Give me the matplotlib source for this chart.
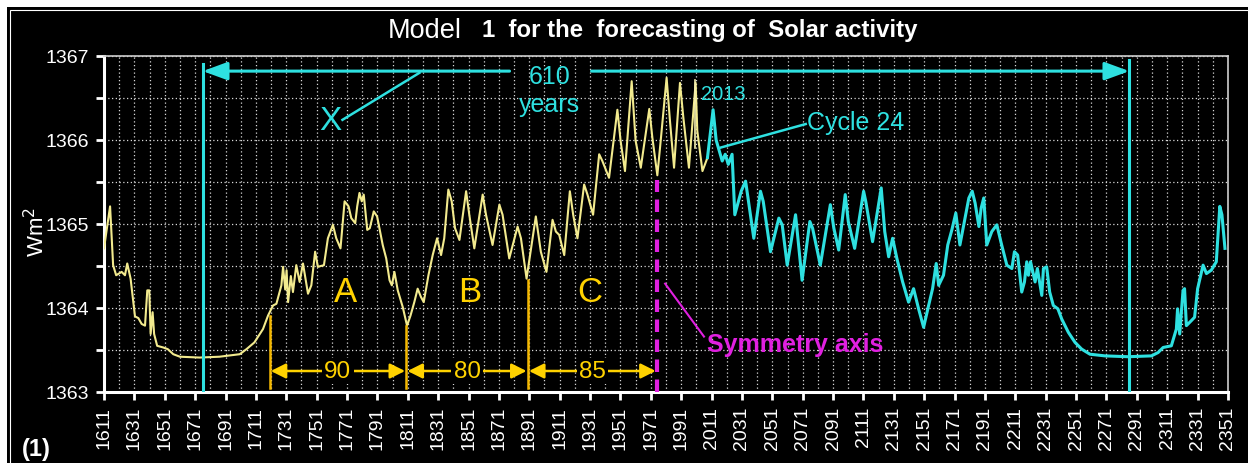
import matplotlib
matplotlib.use("Agg")
from matplotlib import pyplot as plt
from matplotlib.patches import Rectangle
import numpy as np

plt.rcParams['font.family'] = ['Liberation Sans', 'DejaVu Sans']

# reconstructed / observed part (yellow)
hist_years = [1611, 1615, 1617, 1619, 1622.6, 1624.8, 1626.3, 1628.5, 1631.4, 1633.6,
              1635.8, 1638, 1639.5, 1640.8, 1641.7, 1643, 1644, 1646, 1650, 1653,
              1656.6, 1661, 1674, 1687, 1700.4, 1704.8, 1710, 1715.7, 1719, 1722.3,
              1724.5, 1727.8, 1728.9, 1730.3, 1731.2, 1732.2, 1734, 1735.4, 1737.6, 1739.8,
              1742, 1745.3, 1747.5, 1750, 1751.8, 1755.8, 1758.4, 1761.7, 1763.9, 1766.7,
              1769.4, 1772, 1773.8, 1776.4, 1777.7, 1779.2, 1780.7, 1782, 1784.3, 1786,
              1788.6, 1790.8, 1794.5, 1796.8, 1799, 1800.5, 1802.2, 1804.4, 1807.7, 1810.5,
              1812.8, 1815.3, 1817.5, 1819.7, 1821.5, 1824.6, 1827.4, 1830.3, 1832.9, 1835,
              1837.7, 1839.9, 1842.1, 1845, 1849.4, 1851.5, 1854.8, 1860.3, 1862.5, 1866.8,
              1871.3, 1873.4, 1877.8, 1883.3, 1885.5, 1889.2, 1895.3, 1898.6, 1902.3, 1906.3,
              1908.5, 1910.7, 1914, 1917.7, 1919.9, 1922.7, 1927.1, 1929.3, 1933, 1937,
              1939.1, 1943.5, 1949, 1951.1, 1954, 1958.4, 1961, 1964.4, 1970, 1972,
              1975.3, 1977.5, 1981.4, 1983.6, 1986.3, 1990.2, 1992.4, 1996.1, 2000.5, 2001.6,
              2005, 2008.3]
hist_tsi = [1364.71, 1365.21, 1364.51, 1364.39, 1364.43, 1364.39, 1364.53, 1364.35, 1363.90, 1363.88,
            1363.81, 1363.79, 1364.21, 1364.21, 1363.69, 1363.95, 1363.69, 1363.55, 1363.53, 1363.51,
            1363.45, 1363.42, 1363.41, 1363.42, 1363.45, 1363.51, 1363.59, 1363.75, 1363.91, 1364.03,
            1364.05, 1364.27, 1364.49, 1364.22, 1364.45, 1364.07, 1364.38, 1364.19, 1364.51, 1364.31,
            1364.53, 1364.17, 1364.27, 1364.67, 1364.49, 1364.51, 1364.83, 1364.99, 1364.83, 1364.71,
            1365.27, 1365.21, 1365.07, 1365.01, 1365.21, 1365.37, 1365.27, 1365.35, 1364.93, 1364.95,
            1365.15, 1365.09, 1364.75, 1364.59, 1364.33, 1364.27, 1364.43, 1364.21, 1364.01, 1363.79,
            1363.91, 1364.07, 1364.23, 1364.13, 1364.07, 1364.39, 1364.63, 1364.83, 1364.63, 1364.83,
            1365.41, 1365.27, 1364.95, 1364.81, 1365.39, 1365.11, 1364.71, 1365.35, 1365.11, 1364.75,
            1365.23, 1365.11, 1364.59, 1364.97, 1364.83, 1364.35, 1365.09, 1364.67, 1364.43, 1365.05,
            1364.91, 1364.87, 1364.63, 1365.39, 1365.11, 1364.83, 1365.47, 1365.35, 1365.11, 1365.83,
            1365.75, 1365.55, 1366.36, 1365.99, 1365.63, 1366.70, 1365.99, 1365.67, 1366.37, 1366.03,
            1365.58, 1365.99, 1366.74, 1366.23, 1365.67, 1366.68, 1366.27, 1365.67, 1366.68, 1366.11,
            1365.63, 1365.79]

# forecast part (cyan)
fc_years = [2008.3, 2012, 2014, 2018, 2020, 2022, 2024.5, 2026.3, 2030.5, 2033.4,
            2038.8, 2043.2, 2045, 2049.8, 2055.3, 2057.5, 2060.8, 2066.3, 2070.6, 2075.7,
            2077.5, 2082.6, 2089.2, 2091.5, 2094.7, 2099, 2101, 2105.2, 2111.1, 2112.5,
            2117, 2122.7, 2125, 2127.6, 2130.2, 2133, 2136.8, 2140.7, 2144, 2147.3,
            2150.6, 2153.9, 2156.5, 2158.9, 2160.5, 2163.7, 2166.5, 2169.2, 2171.8, 2174.5,
            2180.4, 2182.6, 2184.5, 2187, 2188.5, 2190.2, 2192.2, 2195.5, 2198.8, 2202,
            2205.4, 2208.7, 2210.4, 2212.5, 2215.2, 2217, 2218.5, 2219.6, 2221, 2224,
            2225.5, 2228.4, 2229.5, 2231.6, 2233.6, 2236, 2239, 2241.5, 2245.9, 2250.3,
            2254.7, 2260.1, 2270, 2285.3, 2300.6, 2305, 2308.3, 2313.7, 2317, 2317.8,
            2319.2, 2321.4, 2322.4, 2323.6, 2326.9, 2329, 2331, 2334.6, 2336.8, 2340,
            2343.3, 2345.6, 2347, 2349]
fc_tsi = [1365.79, 1366.36, 1366.00, 1365.75, 1365.83, 1365.71, 1365.83, 1365.11, 1365.39, 1365.51,
          1364.83, 1365.39, 1365.27, 1364.67, 1365.07, 1364.99, 1364.51, 1365.11, 1364.33, 1365.03,
          1364.95, 1364.51, 1365.23, 1364.95, 1364.69, 1365.35, 1365.03, 1364.71, 1365.39, 1365.27,
          1364.79, 1365.43, 1364.91, 1364.61, 1364.83, 1364.59, 1364.31, 1364.07, 1364.23, 1363.99,
          1363.77, 1364.03, 1364.23, 1364.53, 1364.27, 1364.39, 1364.75, 1364.93, 1365.13, 1364.75,
          1365.31, 1365.39, 1365.25, 1364.97, 1365.19, 1365.31, 1364.75, 1364.91, 1364.99, 1364.75,
          1364.51, 1364.47, 1364.67, 1364.63, 1364.19, 1364.31, 1364.55, 1364.39, 1364.55, 1364.31,
          1364.47, 1364.15, 1364.47, 1364.49, 1364.19, 1364.03, 1363.99, 1363.87, 1363.71, 1363.59,
          1363.51, 1363.45, 1363.43, 1363.42, 1363.43, 1363.47, 1363.53, 1363.55, 1363.75, 1363.99,
          1363.69, 1364.21, 1364.23, 1363.79, 1363.85, 1363.89, 1364.23, 1364.51, 1364.41, 1364.45,
          1364.55, 1365.21, 1365.11, 1364.71]

x_ticks = list(range(1611, 2352, 20))
y_ticks = [1363, 1364, 1365, 1366, 1367]

span_start, span_end = 1676, 2286
segment_bounds = [1720, 1810, 1890, 1975]
segment_labels = ['90', '80', '85']
phase_labels = [('A', 1770), ('B', 1851.5), ('C', 1930.5)]
sym_axis = 1975.2
marker_2013 = 2000.1

YEL = '#f2ea8e'
GOLD = '#ffd200'
GOLD_LINE = '#f5b800'
CYAN = '#2ee0e0'
MAG = '#e020e0'

fig = plt.figure(figsize=(12.48, 4.64), dpi=100, facecolor='white')
fig.patches.append(Rectangle((7 / 1248, -0.1), 1.1, 1.1 - 8 / 464, transform=fig.transFigure,
                             facecolor='black', edgecolor='none', zorder=-10))
fig.patches.append(Rectangle((9.5 / 1248, -0.1), 1.1, 1.1 - 10.5 / 464, transform=fig.transFigure,
                             facecolor='none', edgecolor='white', lw=0.8, zorder=-9))

ax = fig.add_axes([104 / 1248, 1 - 393 / 464, 1124 / 1248, 336 / 464])
ax.set_facecolor('black')

ax.plot(hist_years, hist_tsi, color=YEL, lw=1.5, zorder=3)
ax.plot(fc_years, fc_tsi, color=CYAN, lw=2.2, zorder=3)

ax.set_xlim(1611, 2351)
ax.set_ylim(1363, 1367)
ax.set_xticks(x_ticks)
ax.set_xticklabels([str(t) for t in x_ticks], rotation=90)
ax.set_xticks(np.arange(1621, 2352, 20), minor=True)
ax.set_yticks(y_ticks)
ax.set_yticks([1363.5, 1364.5, 1365.5, 1366.5], minor=True)
ax.tick_params(axis='both', which='major', colors='white', labelsize=14, width=2, length=6)
ax.tick_params(axis='y', which='minor', colors='white', width=2, length=6)
ax.tick_params(axis='x', which='minor', length=0)
ax.tick_params(axis='x', pad=4)
ax.tick_params(axis='y', pad=5)
ax.grid(True, which='both', color='#d8d8d8', ls=(0, (1, 2)), lw=0.9)
for side in ['left', 'bottom']:
    ax.spines[side].set_color('white')
    ax.spines[side].set_linewidth(2.2)
for side in ['top', 'right']:
    ax.spines[side].set_color('#cfcfcf')
    ax.spines[side].set_linewidth(1.2)

ax.text(-0.06, 0.48, 'Wm$^2$', transform=ax.transAxes, rotation=90, color='white',
        fontsize=16, ha='center', va='center')

# 610-year span
ax.plot([span_start, span_start], [1363, 1366.9], color=CYAN, lw=2.2, zorder=4)
ax.plot([span_end, span_end], [1363, 1366.95], color=CYAN, lw=2.2, zorder=4)
ax.annotate('', xy=(span_start, 1366.82), xytext=(1878, 1366.82),
            arrowprops=dict(arrowstyle='-|>,head_length=1.5,head_width=0.55', color=CYAN, lw=2.2,
                            shrinkA=0, shrinkB=0), zorder=5)
ax.annotate('', xy=(span_end, 1366.82), xytext=(1932, 1366.82),
            arrowprops=dict(arrowstyle='-|>,head_length=1.5,head_width=0.55', color=CYAN, lw=2.2,
                            shrinkA=0, shrinkB=0), zorder=5)
ax.text(1904.5, 1366.76, '610', color=CYAN, fontsize=18, ha='center', va='center')
ax.text(1904.5, 1366.43, 'years', color=CYAN, fontsize=18, ha='center', va='center')
ax.text(1760, 1366.23, 'X', color=CYAN, fontsize=24, ha='center', va='center')
ax.plot([1768, 1818.7], [1366.24, 1366.80], color=CYAN, lw=1.8, zorder=4)

ax.plot([marker_2013, marker_2013], [1365.9, 1366.72], color='#f6f0b0', lw=1.2, zorder=4)
ax.text(2018.5, 1366.55, '2013', color=CYAN, fontsize=14.5, ha='center', va='center')
ax.plot([2017, 2073], [1365.91, 1366.19], color=CYAN, lw=1.8, zorder=4)
ax.text(2074, 1366.21, 'Cycle 24', color=CYAN, fontsize=18, ha='left', va='center')

# segments A, B, C
tops = [1363.9, 1363.78, 1364.33]
for x, top in zip(segment_bounds[:3], tops):
    ax.plot([x, x], [1363.05, top], color=GOLD_LINE, lw=1.8, zorder=4)
for (x0, x1), lab in zip(zip(segment_bounds[:-1], segment_bounds[1:]), segment_labels):
    ax.annotate('', xy=(x0 + 0.8, 1363.25), xytext=(x1 - 0.8, 1363.25),
                arrowprops=dict(arrowstyle='<|-|>,head_length=0.9,head_width=0.45', color=GOLD,
                                lw=1.8, shrinkA=0, shrinkB=0), zorder=5)
    ax.text((x0 + x1) / 2, 1363.25, lab, color=GOLD, fontsize=17.5, ha='center', va='center',
            zorder=6, bbox=dict(facecolor='black', edgecolor='none', pad=1.5))
for lab, x in phase_labels:
    ax.text(x, 1364.2, lab, color=GOLD, fontsize=25, ha='center', va='center')

# symmetry axis
ax.plot([sym_axis, sym_axis], [1363, 1365.52], color=MAG, lw=3, ls=(0, (3, 1.8)), zorder=4)
ax.plot([1980.4, 2006], [1364.29, 1363.66], color=MAG, lw=1.5, zorder=4)
ax.text(2008, 1363.57, 'Symmetry axis', color=MAG, fontsize=18, fontweight='bold',
        ha='left', va='center')

# title
fig.text(388 / 1248, 1 - 31 / 464, 'Model', color='white', fontsize=19.5, ha='left', va='center')
fig.text(482 / 1248, 1 - 31 / 464, '1  for the  forecasting of  Solar activity', color='white',
         fontsize=17.3, fontweight='bold', ha='left', va='center')
fig.text(22 / 1248, 1 - 461 / 464, '(1)', color='white', fontsize=17, fontweight='bold',
         ha='left', va='bottom')

fig.savefig('out.png', dpi=100, facecolor=fig.get_facecolor())
